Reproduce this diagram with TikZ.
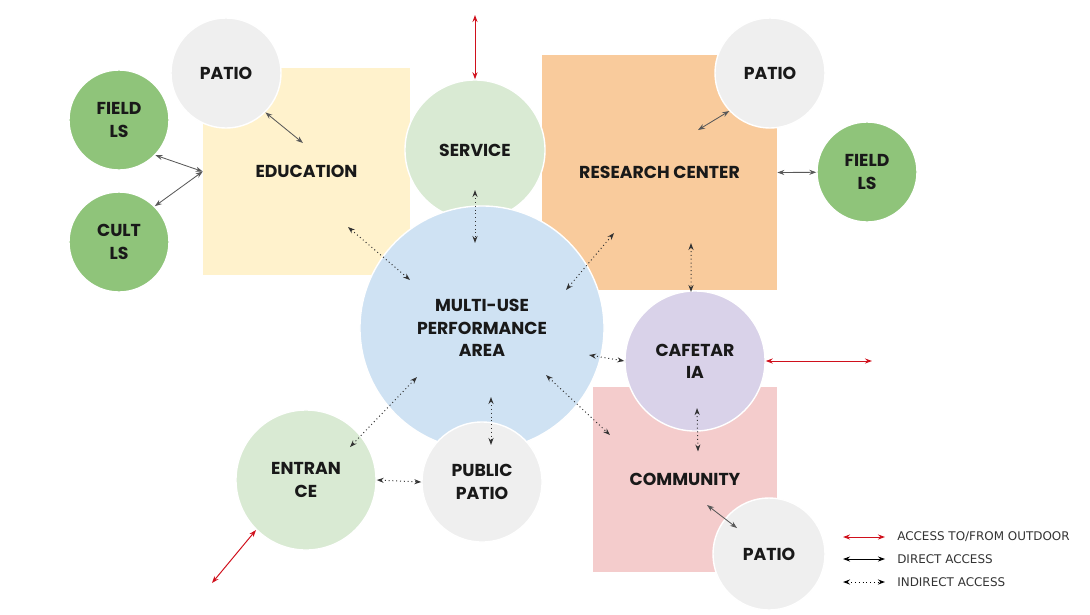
\documentclass[tikz,border=0pt]{standalone}
\usepackage{fontspec}
\newfontfamily\lblfont{Poppins}
\newfontfamily\lgdfont{DejaVu Sans}
\usepackage{tikz}
\usetikzlibrary{arrows.meta}
\definecolor{eduyellow}{HTML}{FFF2CC}
\definecolor{resorange}{HTML}{F9CB9C}
\definecolor{compink}{HTML}{F4CCCC}
\definecolor{patiogray}{HTML}{EFEFEF}
\definecolor{lsgreen}{HTML}{8FC47A}
\definecolor{palegreen}{HTML}{D9EAD3}
\definecolor{paleblue}{HTML}{CFE2F3}
\definecolor{palepurple}{HTML}{D9D2E9}
\definecolor{outred}{HTML}{D0101C}

\begin{document}
\begin{tikzpicture}[x=0.025cm, y=-0.025cm,
  zone/.style={inner sep=0pt, align=center, text=black!90, font=\lblfont\bfseries\fontsize{12.3}{15.8}\selectfont},
  bubble/.style={zone, circle, draw=white, line width=1pt},
  dirarr/.style={{Stealth[length=5pt,width=3.6pt]}-{Stealth[length=5pt,width=3.6pt]}, black!65, line width=0.6pt},
  indarr/.style={{Stealth[length=5pt,width=3.6pt]}-{Stealth[length=5pt,width=3.6pt]}, black!80, dotted, line width=0.7pt},
  outarr/.style={{Stealth[length=5pt,width=3.6pt]}-{Stealth[length=5pt,width=3.6pt]}, outred, line width=0.7pt},
  lgdtext/.style={anchor=west, inner sep=0pt, text=black!80, font=\lgdfont\fontsize{8.5}{9.5}\selectfont},
]
\useasboundingbox (0,0) rectangle (1090,614);

% ===================== Zones (squares) =====================
\node[zone, fill=eduyellow, minimum width=5.175cm, minimum height=5.175cm] (edu) at (306.5,171.5) {EDUCATION};
\node[zone, fill=resorange, minimum width=5.875cm, minimum height=5.875cm] (research) at (659.5,172.5) {RESEARCH CENTER};
\node[zone, fill=compink, minimum width=4.6cm, minimum height=4.625cm] (community) at (685,479.5) {COMMUNITY};

% ===================== Bubbles =====================
\node[bubble, fill=patiogray, minimum size=2.75cm] (patioA) at (226,73) {PATIO};
\node[bubble, fill=lsgreen, minimum size=2.5cm] (fieldA) at (119,120) {FIELD\\LS};
\node[bubble, fill=lsgreen, minimum size=2.5cm] (cultA) at (119,242) {CULT\\LS};
\node[bubble, fill=palegreen, minimum size=3.5cm] (service) at (475,150) {SERVICE};
\node[bubble, fill=patiogray, minimum size=2.75cm] (patioB) at (770,73) {PATIO};
\node[bubble, fill=lsgreen, minimum size=2.5cm] (fieldB) at (867,172) {FIELD\\LS};
\node[bubble, fill=paleblue, minimum size=6.1cm] (multi) at (482,328) {MULTI-USE\\PERFORMANCE\\AREA};
\node[bubble, fill=patiogray, minimum size=3cm] (pubpatio) at (482,482) {PUBLIC\\PATIO};
\node[bubble, fill=palegreen, minimum size=3.5cm] (entrance) at (306,480) {ENTRAN\\CE};
\node[bubble, fill=palepurple, minimum size=3.5cm] (cafe) at (695,361) {CAFETAR\\IA};
\node[bubble, fill=patiogray, minimum size=2.8cm] (patioC) at (769,554) {PATIO};

% outdoor ends
\coordinate (svcout) at (475,15);
\coordinate (cafeout) at (872,361);
\coordinate (entout) at (212,583);

% ===================== Direct access =====================
\draw[dirarr] (patioA.-45) -- ([shift={(-3.5,-28.5)}]edu.center);
\draw[dirarr] (fieldA.-44) -- (edu.west);
\draw[dirarr] (cultA.45) -- (edu.west);
\draw[dirarr] (patioB.223) -- ([shift={(38.5,-42.5)}]research.center);
\draw[dirarr] (research.east) -- (fieldB);
\draw[dirarr] ([shift={(22,25.5)}]community.center) -- ([shift={(-32,-26)}]patioC.center);

% ===================== Indirect access =====================
\draw[indarr] ([shift={(0,40)}]service.center) -- ([shift={(-7,-85)}]multi.center);
\draw[indarr] ([shift={(41.5,55.5)}]edu.center) -- ([shift={(-72,-48)}]multi.center);
\draw[indarr] ([shift={(-45.5,60.5)}]research.center) -- ([shift={(84,-38)}]multi.center);
\draw[indarr] ([shift={(31.5,70.5)}]research.center) -- ([shift={(-4,-69)}]cafe.center);
\draw[indarr] ([shift={(107,27)}]multi.center) -- (cafe.west);
\draw[indarr] ([shift={(64,47)}]multi.center) -- ([shift={(-75,-44.5)}]community.center);
\draw[indarr] ([shift={(2,47)}]cafe.center) -- ([shift={(13,-28)}]community.center);
\draw[indarr] ([shift={(-65,49)}]multi.center) -- ([shift={(44,-33)}]entrance.center);
\draw[indarr] ([shift={(9,69)}]multi.center) -- ([shift={(9,-37)}]pubpatio.center);
\draw[indarr] (entrance.east) -- (pubpatio.west);

% ===================== Access to/from outdoor =====================
\draw[outarr] (svcout) -- (service.north);
\draw[outarr] (cafe.east) -- (cafeout);
\draw[outarr] (entrance.225) -- (entout);

% ===================== Legend =====================
\coordinate (lgA1) at (843,537); \coordinate (lgA2) at (885,537);
\coordinate (lgB1) at (843,559); \coordinate (lgB2) at (885,559);
\coordinate (lgC1) at (843,582); \coordinate (lgC2) at (885,582);
\draw[outarr] (lgA1) -- (lgA2);
\draw[dirarr, black] (lgB1) -- (lgB2);
\draw[indarr, black] (lgC1) -- (lgC2);
\node[lgdtext] (lgout) at (897,537) {ACCESS TO/FROM OUTDOOR};
\node[lgdtext] (lgdir) at (897,559) {DIRECT ACCESS};
\node[lgdtext] (lgind) at (897,582) {INDIRECT ACCESS};

\end{tikzpicture}
\end{document}
